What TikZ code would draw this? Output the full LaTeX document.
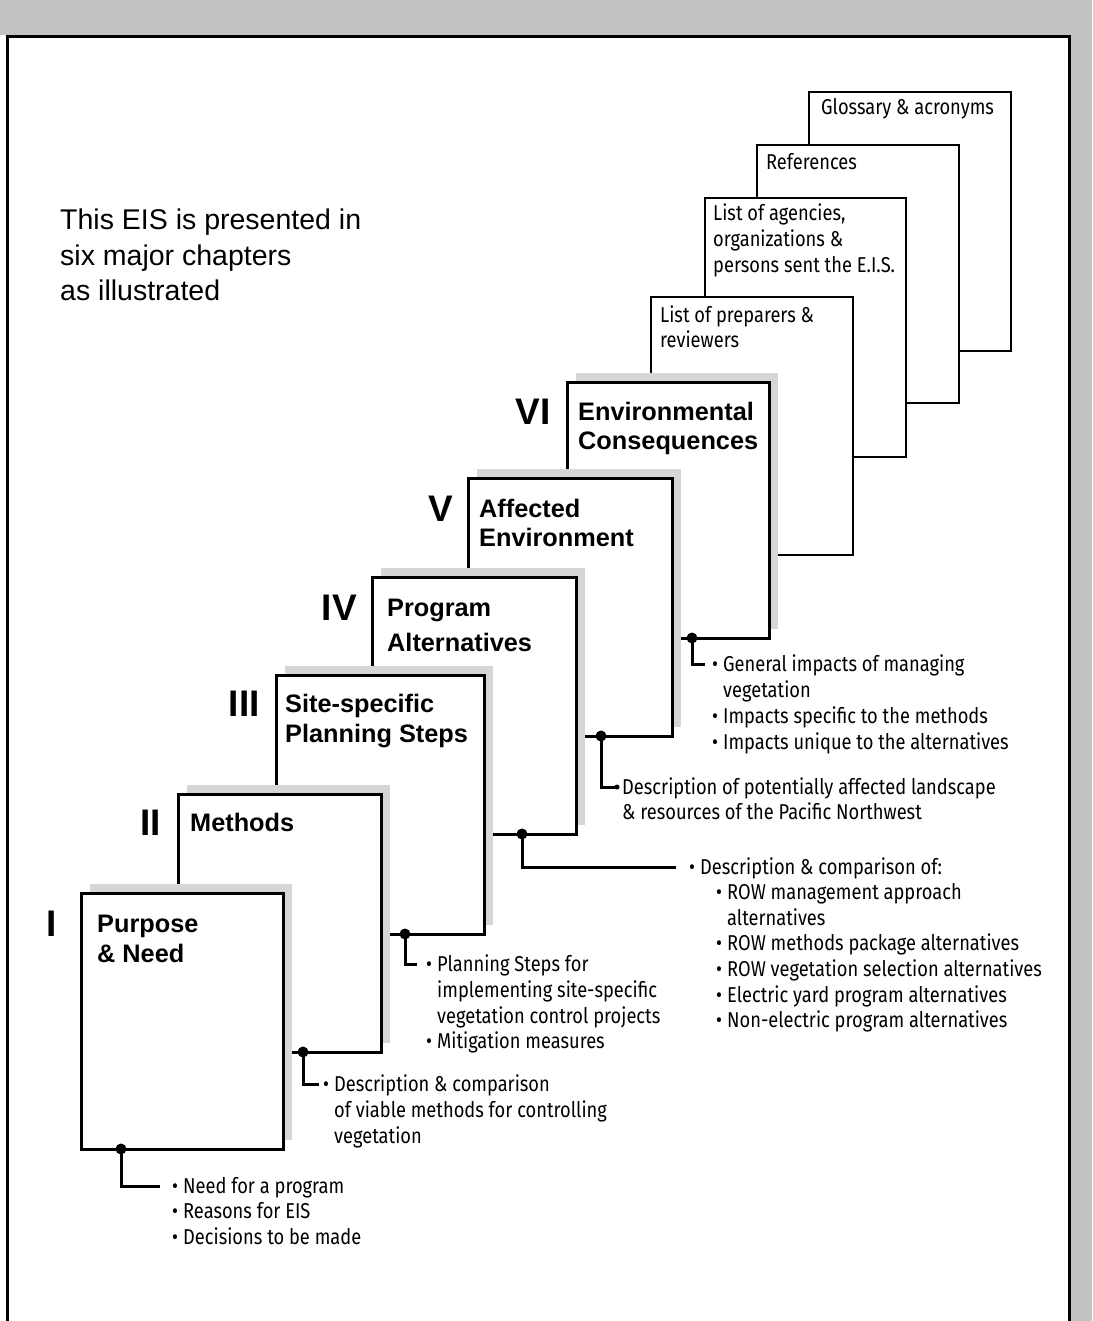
\documentclass[tikz,border=0pt]{standalone}
\usepackage{fontspec}
\setmainfont{Liberation Sans}
\newfontfamily\listfont[FakeStretch=0.85]{Fira Sans}
\usetikzlibrary{calc,shadows}

\newcommand\bl{\makebox[11pt][l]{\textbullet}}

\begin{document}
\begin{tikzpicture}[x=1pt,y=-1pt,
  chap/.style={draw, line width=3pt, fill=white, inner sep=0pt, outer sep=0pt, anchor=north west,
    drop shadow={shadow xshift=9pt, shadow yshift=9pt, fill=black!16, opacity=1}},
  appx/.style={draw, line width=2.4pt, fill=white, inner sep=0pt, outer sep=0pt, anchor=north west},
  title/.style={font=\fontsize{25.3}{30}\selectfont\bfseries, inner sep=0pt, anchor=base west},
  numeral/.style={font=\fontsize{37}{40}\selectfont\bfseries, inner sep=0pt, anchor=base east},
  intro/.style={font=\fontsize{28.5}{34}\selectfont, inner sep=0pt, anchor=base west},
  item/.style={font=\listfont\fontsize{21.5}{24}\selectfont, inner sep=0pt, anchor=base west},
  conn/.style={line width=3pt},
  knot/.style={fill=black}
]
\useasboundingbox (0,0) rectangle (1092,1321);

% grey margin of the sheet
\fill[black!24] (0,0) rectangle (1092,35);
\fill[black!24] (1071,0) rectangle (1092,1321);
\fill[white] (9,39) rectangle (1067,1321);
% page frame
\draw[line width=3pt] (7,1330) -- (7,37) -- (1069,37) -- (1069,1330);

% introduction
\node[intro] (in1) at (60,230) {This EIS is presented in};
\node[intro] (in2) at (60,266) {six major chapters};
\node[intro] (in3) at (60,301) {as illustrated};

% back matter pages
\node[appx, minimum width=202pt, minimum height=259pt] (glos) at (809,92) {};
\node[item] (glosT) at (821,115) {Glossary \& acronyms};
\node[appx, minimum width=202pt, minimum height=258pt] (refs) at (757,145) {};
\node[item] (refsT) at (766,170) {References};
\node[appx, minimum width=201pt, minimum height=259pt] (agen) at (705,198) {};
\node[item] (agenT1) at (713,221) {List of agencies,};
\node[item] (agenT2) at (713,247) {organizations \&};
\node[item] (agenT3) at (713,273) {persons sent the E.I.S.};
\node[appx, minimum width=202pt, minimum height=258pt] (prep) at (651,297) {};
\node[item] (prepT1) at (660,322) {List of preparers \&};
\node[item] (prepT2) at (660,347) {reviewers};

% chapter VI
\node[chap, minimum width=202pt, minimum height=256pt] (c6) at (567,382) {};
\node[numeral] (n6) at (551,424) {VI};
\node[title] (t6a) at (578,420) {Environmental};
\node[title] (t6b) at (578,449) {Consequences};
% chapter V
\node[chap, minimum width=204pt, minimum height=258pt] (c5) at (468,478) {};
\node[numeral] (n5) at (453,521) {V};
\node[title] (t5a) at (479,517) {Affected};
\node[title] (t5b) at (479,546) {Environment};
% chapter IV
\node[chap, minimum width=204pt, minimum height=257pt] (c4) at (372,577) {};
\node[numeral] (n4) at (357,620) {IV};
\node[title] (t4a) at (387,616) {Program};
\node[title] (t4b) at (387,651) {Alternatives};
% chapter III
\node[chap, minimum width=208pt, minimum height=259pt] (c3) at (276,675) {};
\node[numeral] (n3) at (260,716) {III};
\node[title] (t3a) at (285,712) {Site-specific};
\node[title] (t3b) at (285,742) {Planning Steps};
% chapter II
\node[chap, minimum width=203pt, minimum height=258pt] (c2) at (178,794) {};
\node[numeral] (n2) at (161,835) {II};
\node[title] (t2a) at (190,831) {Methods};
% chapter I
\node[chap, minimum width=202pt, minimum height=256pt] (c1) at (81,893) {};
\node[numeral] (n1) at (57,936) {I};
\node[title] (t1a) at (97,932) {Purpose};
\node[title] (t1b) at (97,962) {\& Need};

% contents of each chapter
\node[item] (lA1) at (172,1193) {\bl Need for a program};
\node[item] (lA2) at (172,1218) {\bl Reasons for EIS};
\node[item] (lA3) at (172,1244) {\bl Decisions to be made};

\node[item] (lB1) at (323,1091) {\bl Description \& comparison};
\node[item] (lB2) at (334,1117) {of viable methods for controlling};
\node[item] (lB3) at (334,1143) {vegetation};

\node[item] (lC1) at (426,971) {\bl Planning Steps for};
\node[item] (lC2) at (437,997) {implementing site-specific};
\node[item] (lC3) at (437,1023) {vegetation control projects};
\node[item] (lC4) at (426,1048) {\bl Mitigation measures};

\node[item] (lD1) at (689,874) {\bl Description \& comparison of:};
\node[item] (lD2) at (716,899) {\bl ROW management approach};
\node[item] (lD3) at (727,925) {alternatives};
\node[item] (lD4) at (716,950) {\bl ROW methods package alternatives};
\node[item] (lD5) at (716,976) {\bl ROW vegetation selection alternatives};
\node[item] (lD6) at (716,1002) {\bl Electric yard program alternatives};
\node[item] (lD7) at (716,1027) {\bl Non-electric program alternatives};

\node[item] (lE1) at (622,794) {Description of potentially affected landscape};
\node[item] (lE2) at (622,819) {\& resources of the Pacific Northwest};

\node[item] (lF1) at (712,671) {\bl General impacts of managing};
\node[item] (lF2) at (723,697) {vegetation};
\node[item] (lF3) at (712,723) {\bl Impacts specific to the methods};
\node[item] (lF4) at (712,749) {\bl Impacts unique to the alternatives};

% connectors from each chapter to its contents
\coordinate (d1) at ($(c1.south west)+(40,0)$);
\coordinate (d2) at ($(c2.south west)+(125,0)$);
\coordinate (d3) at ($(c3.south west)+(129,0)$);
\coordinate (d4) at ($(c4.south west)+(150,0)$);
\coordinate (d5) at ($(c5.south west)+(133,0)$);
\coordinate (d6) at ($(c6.south west)+(125,0)$);

\draw[conn] (d1) |- ([shift={(-12,-7)}]lA1.base west);
\draw[conn] (d2) |- ([shift={(-4,-7)}]lB1.base west);
\draw[conn] (d3) |- ([shift={(-9,-7)}]lC1.base west);
\draw[conn] (d4) |- ([shift={(-13,-7)}]lD1.base west);
\draw[conn] (d5) |- ([shift={(-6,-7)}]lE1.base west);
\draw[conn] (d6) |- ([shift={(-7,-7)}]lF1.base west);
\fill[knot] ([shift={(-5,-7)}]lE1.base west) circle[radius=2.5pt];

\foreach \d in {d1,d2,d3,d4,d5,d6}
  \fill[knot] (\d) circle[radius=5.5pt];
\end{tikzpicture}
\end{document}
